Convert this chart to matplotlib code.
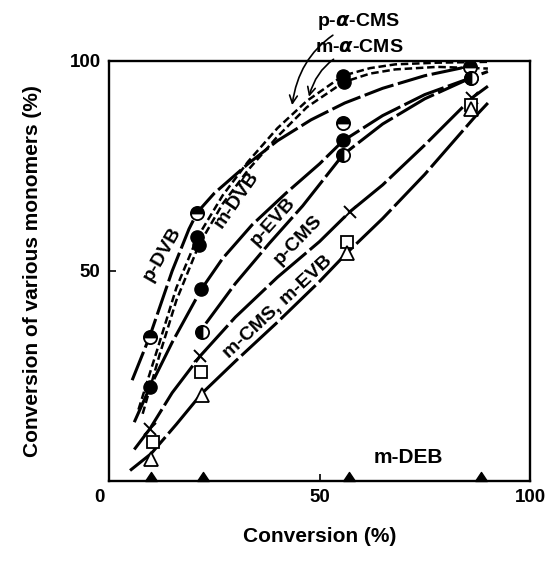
import numpy as np
import matplotlib.pyplot as plt
from matplotlib.transforms import ScaledTranslation

plt.rcParams['font.family'] = ['Liberation Sans', 'DejaVu Sans']
plt.rcParams['font.weight'] = 'bold'
plt.rcParams['mathtext.fontset'] = 'dejavusans'

# measured points (conversion %, monomer conversion %)
pdvb_x = [9.7, 20.9, 55.6, 85.7]
pdvb_y = [34.4, 63.9, 85.3, 98.6]
pacms_x = [21.0, 55.6]
pacms_y = [58.0, 96.5]
macms_x = [21.4, 55.8]
macms_y = [56.3, 95.0]
mdvb_x = [9.7, 21.9, 55.6, 86.0]
mdvb_y = [22.3, 45.6, 81.2, 96.0]
pevb_x = [22.0, 55.6, 86.0]
pevb_y = [35.4, 77.7, 96.0]
pcms_x = [9.7, 21.6, 57.2, 86.2]
pcms_y = [12.4, 29.7, 64.1, 91.2]
mcms_x = [10.4, 21.8, 56.5, 86.0]
mcms_y = [9.3, 25.9, 56.8, 89.5]
mevb_x = [10.0, 22.0, 56.5, 86.0]
mevb_y = [5.2, 20.4, 54.2, 88.5]
mdeb_x = [9.9, 22.3, 57.0, 88.4]
mdeb_y = [0, 0, 0, 0]

# hand-drawn curves
pdvb_cx = [5.5, 9.7, 15, 19, 21, 25, 29, 33, 40, 48, 56, 65, 75, 84]
pdvb_cy = [24, 34.5, 50, 60, 64, 68.5, 72, 75.5, 81, 86, 90, 93.5, 96.5, 98.4]
pacms_cx = [7, 12, 16, 21, 27, 33, 40, 47, 55.6, 62, 68, 78, 90]
pacms_cy = [17, 33, 46, 58, 68, 76, 84, 90.5, 96.5, 98.3, 99.2, 99.6, 99.8]
macms_cx = [8, 12, 16, 21.4, 27, 33, 40, 47, 55.8, 62, 68, 78, 90]
macms_cy = [16, 30, 43, 56.3, 66, 74, 82, 89, 95.0, 97.0, 98.0, 98.6, 98.2]
mdvb_cx = [6, 9.7, 15, 21.9, 27, 34, 42, 50, 55.6, 65, 75, 86]
mdvb_cy = [14, 22.3, 33, 45.6, 53, 61, 68.5, 75.5, 81, 87, 92, 96]
pevb_cx = [23, 30, 38, 46, 55.6, 65, 75, 86, 90]
pevb_cy = [37.5, 47, 56.5, 65.5, 77.7, 85, 91, 96, 97.5]
pcms_cx = [6, 9.7, 15, 21.6, 30, 40, 50, 57.2, 65, 75, 86.2, 90]
pcms_cy = [7.5, 12.4, 21, 29.7, 39, 48.5, 57, 64.1, 70.5, 80, 91.2, 94]
mcms_cx = [5, 10, 16, 22, 30, 40, 50, 56.5, 65, 75, 87, 90]
mcms_cy = [2.5, 6.5, 13.5, 20.8, 28.5, 37.8, 47.5, 54.3, 62.5, 73, 86.8, 90]

fig = plt.figure(figsize=(5.5, 5.62), dpi=100)
ax = fig.add_axes([109/550, 1-481/562, 421/550, 420/562])

lw = 2.2
ax.plot(pdvb_cx, pdvb_cy, color='k', lw=lw, ls=(0, (10, 1.5)), zorder=2)
ax.plot(pacms_cx, pacms_cy, color='k', lw=1.8, ls=(0, (3, 1.5)), zorder=2)
ax.plot(macms_cx, macms_cy, color='k', lw=1.8, ls=(0, (3, 1.5)), zorder=2)
ax.plot(mdvb_cx, mdvb_cy, color='k', lw=lw, ls=(0, (14, 1.5)), zorder=2)
ax.plot(pevb_cx, pevb_cy, color='k', lw=lw, ls=(0, (14, 1.5)), zorder=2)
ax.plot(pcms_cx, pcms_cy, color='k', lw=lw, ls=(0, (16, 1.5)), zorder=2)
ax.plot(mcms_cx, mcms_cy, color='k', lw=lw, ls=(0, (16, 1.5)), zorder=2)

ms = 9.5
ax.plot(pdvb_x, pdvb_y, 'o', ms=ms, mfc='k', mfcalt='white', fillstyle='top',
        mec='k', mew=1.3, zorder=4)
ax.plot(pacms_x, pacms_y, 'o', ms=ms, color='k', zorder=4)
ax.plot(macms_x, macms_y, 'o', ms=ms, color='k', zorder=4)
ax.plot(mdvb_x, mdvb_y, 'o', ms=ms, color='k', zorder=4)
ax.plot(pevb_x, pevb_y, 'o', ms=ms, mfc='k', mfcalt='white', fillstyle='left',
        mec='k', mew=1.3, zorder=4)
ax.plot(pcms_x, pcms_y, 'x', ms=9, mec='k', mew=1.4, zorder=4)
ax.plot(mcms_x, mcms_y, 's', ms=9, mfc='white', mec='k', mew=1.3, zorder=4)
ax.plot(mevb_x, mevb_y, '^', ms=10, mfc='white', mec='k', mew=1.3, zorder=4)
tri = [(-1, 0), (1, 0), (0, 1.5), (-1, 0)]
ax.plot(mdeb_x, mdeb_y, ls='none', marker=tri, ms=13, color='k',
        clip_on=False, zorder=5)

# curve labels
lab = dict(fontsize=14, fontweight='bold', ha='center', va='center')
ax.text(12.6, 54, 'p-DVB', rotation=60, **lab)
ax.text(30.2, 67, 'm-DVB', rotation=55, **lab)
ax.text(39, 61.8, 'p-EVB', rotation=48, **lab)
ax.text(45, 57.5, 'p-CMS', rotation=46, **lab)
ax.text(40, 41.5, 'm-CMS, m-EVB', rotation=43, **lab)
ax.text(71, 5.7, 'm-DEB', fontsize=15, fontweight='bold', ha='center', va='center')

ax.annotate(r'p-$\alpha$-CMS', xy=(43.5, 89.5), xytext=(49.5, 109.3),
            fontsize=14, fontweight='bold', ha='left', va='center',
            annotation_clip=False,
            arrowprops=dict(arrowstyle='->', lw=1.2, color='k',
                            connectionstyle='arc3,rad=0.3', shrinkA=0, shrinkB=0))
ax.annotate(r'm-$\alpha$-CMS', xy=(47.5, 91.5), xytext=(49, 103.1),
            fontsize=14, fontweight='bold', ha='left', va='center',
            annotation_clip=False,
            arrowprops=dict(arrowstyle='->', lw=1.2, color='k',
                            connectionstyle='arc3,rad=0.3', shrinkA=0, shrinkB=0))

ax.set_xlim(0, 100)
ax.set_ylim(0, 100)
ax.set_xticks([0, 50, 100])
ax.set_yticks([50, 100])
ax.tick_params(direction='in', length=5, width=1.2, labelsize=13.5, pad=6)
for lbl in ax.get_xticklabels() + ax.get_yticklabels():
    lbl.set_fontweight('bold')
xl = ax.get_xticklabels()
xl[0].set_transform(xl[0].get_transform() + ScaledTranslation(-10/100, 0, fig.dpi_scale_trans))
for s in ax.spines.values():
    s.set_linewidth(1.7)

ax.set_xlabel('Conversion (%)', fontsize=15, fontweight='bold', labelpad=15)
ax.set_ylabel('Conversion of various monomers (%)', fontsize=15,
              fontweight='bold', labelpad=20)

fig.savefig('out.png', dpi=100)
